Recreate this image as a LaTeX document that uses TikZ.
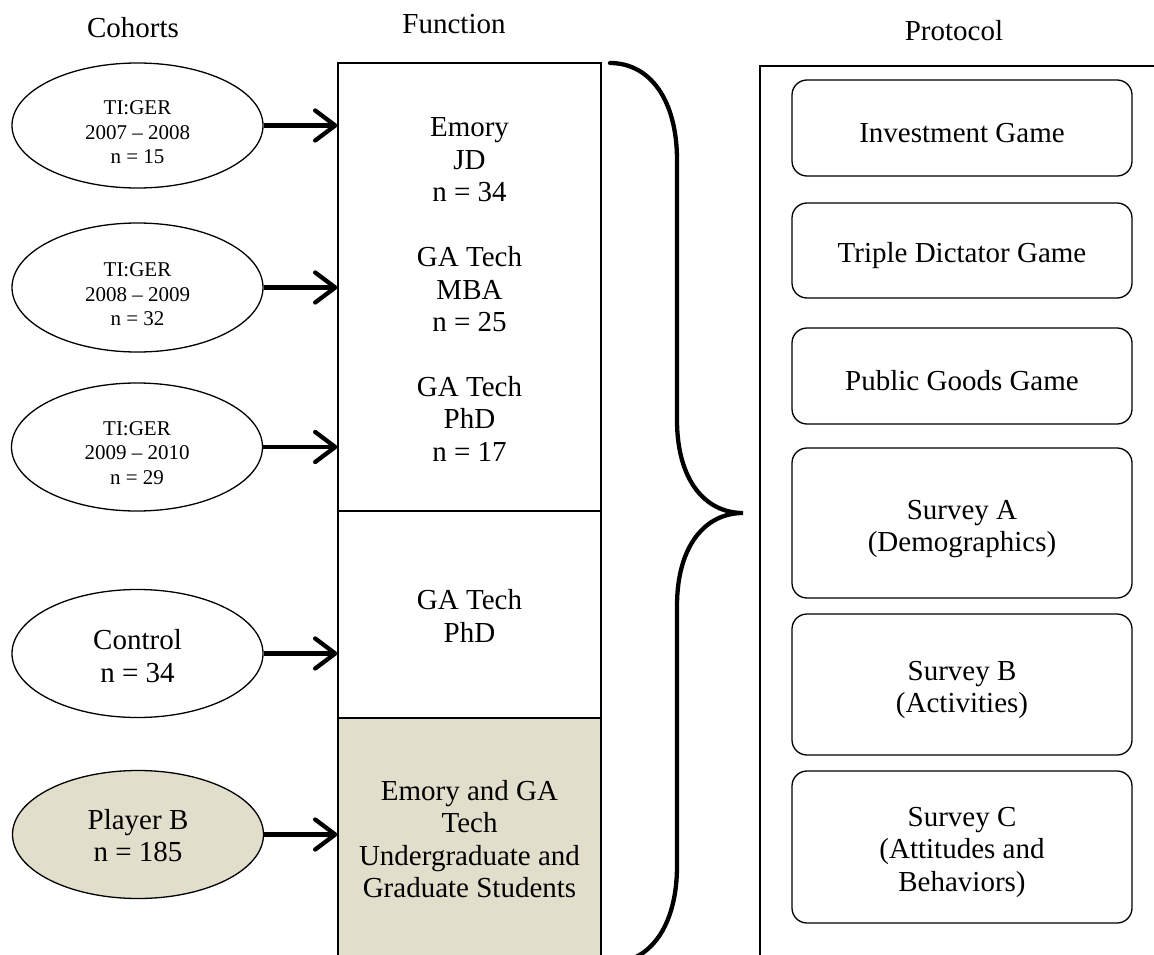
\documentclass[tikz,border=0pt]{standalone}
\usepackage{fontspec}
\setmainfont{Liberation Serif}
\usetikzlibrary{shapes.geometric,arrows.meta}
\definecolor{bfill}{RGB}{226,222,204}
\newcommand\lowr[1]{\rule{0pt}{#1}}
\begin{document}
\begin{tikzpicture}[x=1pt,y=-1pt,
 ell/.style={ellipse, draw, line width=1.3pt, minimum width=251pt, minimum height=128pt, inner sep=0pt, align=center},
 small/.style={font=\fontsize{21}{24.5}\selectfont},
 big/.style={font=\fontsize{29}{32.5}\selectfont},
 fbox/.style={rectangle, draw, line width=1.3pt, minimum width=263pt, inner sep=0pt, align=center, big},
 pbox/.style={rectangle, draw, rounded corners=15pt, line width=1.3pt, minimum width=340pt, inner sep=0pt, align=center, big},
 arr/.style={line width=4.3pt, -{Straight Barb[length=20pt,width=30pt,line cap=round,line join=round]}},
 ttl/.style={anchor=base, font=\fontsize{29}{33}\selectfont}]
\useasboundingbox (0,0) rectangle (1154,955);
\clip (0,0) rectangle (1154,955);
% titles
\node[ttl] (tc) at (133,38) {Cohorts};
\node[ttl] (tf) at (454,34) {Function};
\node[ttl] (tp) at (954,41) {Protocol};
% function column
\node[fbox, minimum height=448pt] (f1) at (469.5,287) {\lowr{24pt}Emory\\JD\\n = 34\\[32.3pt]GA Tech\\MBA\\n = 25\\[32.3pt]GA Tech\\PhD\\n = 17};
\node[fbox, minimum height=207pt] (f2) at (469.5,614.5) {\lowr{23pt}GA Tech\\PhD};
\node[fbox, minimum height=242pt, fill=bfill] (f3) at (469.5,839) {Emory and GA\\Tech\\Undergraduate and\\Graduate Students};
% cohorts
\node[ell, small, minimum height=125pt] (e1) at (137.5,125.5) {\lowr{28pt}TI:GER\\2007 – 2008\\n = 15};
\node[ell, small, minimum height=129pt] (e2) at (137.5,287.5) {\lowr{28pt}TI:GER\\2008 – 2009\\n = 32};
\node[ell, small] (e3) at (137,447) {\lowr{26pt}TI:GER\\2009 – 2010\\n = 29};
\node[ell, big] (e4) at (137.5,653.5) {\lowr{25pt}Control\\n = 34};
\node[ell, big, fill=bfill] (e5) at (138,834.5) {\lowr{22pt}Player B\\n = 185};
% arrows
\draw[arr] (e1.east) -- (e1.east -| f1.west);
\draw[arr] (e2.east) -- (e2.east -| f1.west);
\draw[arr] (e3.east) -- (e3.east -| f1.west);
\draw[arr] (e4.east) -- (e4.east -| f2.west);
\draw[arr] (e5.east) -- (e5.east -| f3.west);
% brace
\draw[line width=4.3pt, line cap=round] (610,63) .. controls (650,63) and (677,100) .. (677,160) -- (677,420) .. controls (677,480) and (705,513) .. (743,513) .. controls (705,513) and (677,546) .. (677,606) -- (677,866) .. controls (677,926) and (650,963) .. (610,963);
% protocol frame
\draw[line width=1.6pt] (1160,66) -- (760,66) -- (760,960);
% protocol boxes
\node[pbox, minimum height=96pt] (p1) at (962,128) {\lowr{30pt}Investment Game};
\node[pbox, minimum height=95pt] (p2) at (962,250.5) {\lowr{30pt}Triple Dictator Game};
\node[pbox, minimum height=96pt] (p3) at (962,376) {\lowr{30pt}Public Goods Game};
\node[pbox, minimum height=150pt] (p4) at (962,523) {\lowr{31pt}Survey A\\(Demographics)};
\node[pbox, minimum height=141pt] (p5) at (962,684.5) {\lowr{30pt}Survey B\\(Activities)};
\node[pbox, minimum height=152pt] (p6) at (962,847) {\lowr{30pt}Survey C\\(Attitudes and\\Behaviors)};
\end{tikzpicture}
\end{document}
